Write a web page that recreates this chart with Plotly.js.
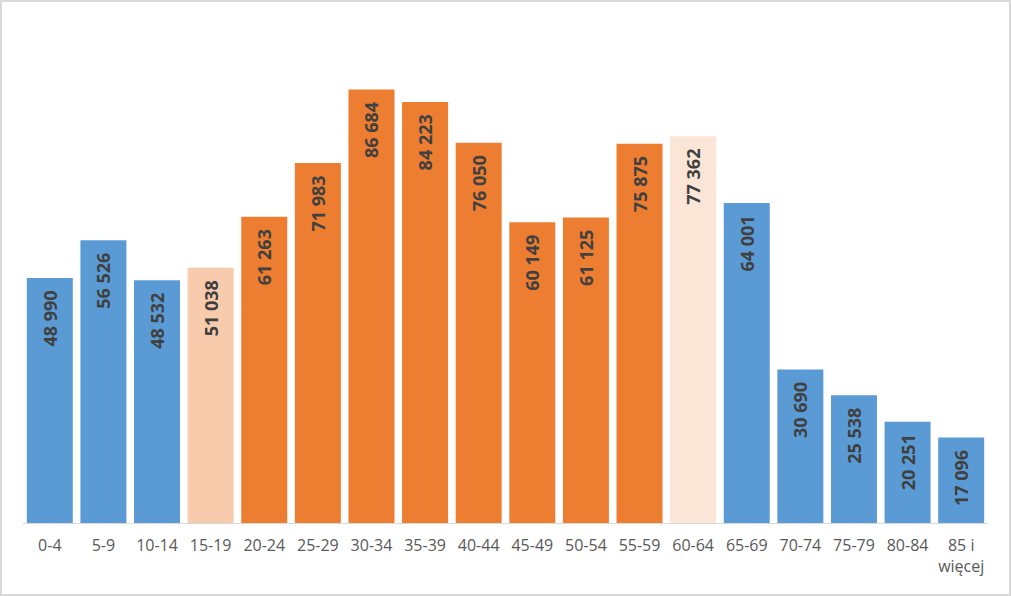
<!DOCTYPE html>
<html>
<head>
<meta charset="utf-8">
<script src="https://cdn.plot.ly/plotly-3.0.1.min.js"></script>
<style>
html,body{margin:0;padding:0;background:#fff;}
#wrap{position:relative;width:1011px;height:596px;}
#chart{width:1011px;height:596px;}
#frame{position:absolute;left:0;top:0;width:1011px;height:596px;box-sizing:border-box;border:2px solid #d9d9d9;pointer-events:none;}
</style>
</head>
<body>
<div id="wrap"><div id="chart"></div><div id="frame"></div></div>
<script>
const categories = ["0-4","5-9","10-14","15-19","20-24","25-29","30-34","35-39","40-44","45-49","50-54","55-59","60-64","65-69","70-74","75-79","80-84","85 i<br>więcej"];
const values = [48990,56526,48532,51038,61263,71983,86684,84223,76050,60149,61125,75875,77362,64001,30690,25538,20251,17096];
const barColors = ["#5B9BD5","#5B9BD5","#5B9BD5","#F8CBAD","#ED7D31","#ED7D31","#ED7D31","#ED7D31","#ED7D31","#ED7D31","#ED7D31","#ED7D31","#FBE5D6","#5B9BD5","#5B9BD5","#5B9BD5","#5B9BD5","#5B9BD5"];

function fmt(v){ return String(v).replace(/\B(?=(\d{3})+(?!\d))/g, "\u00a0") + "\u00a0\u00a0"; }

const trace = {
  type: "bar",
  x: categories,
  y: values,
  marker: {color: barColors},
  text: values.map(fmt),
  textposition: "inside",
  insidetextanchor: "end",
  textangle: -90,
  textfont: {family: "Open Sans, Liberation Sans, sans-serif", size: 18, color: "#404040", weight: "bold"},
  hoverinfo: "none",
  cliponaxis: false
};

const layout = {
  width: 1011, height: 596,
  margin: {l: 23, r: 23, t: 23, b: 73},
  paper_bgcolor: "#fff", plot_bgcolor: "#fff",
  bargap: 0.142,
  showlegend: false,
  xaxis: {
    type: "category",
    showline: true, linecolor: "#d9d9d9", linewidth: 1,
    ticks: "", ticklabelstandoff: 8,
    tickfont: {family: "Open Sans, Liberation Sans, sans-serif", size: 16, color: "#595959"},
    fixedrange: true
  },
  yaxis: {
    range: [0, 100000], visible: false, showgrid: false, zeroline: false, fixedrange: true
  }
};

Plotly.newPlot("chart", [trace], layout, {displayModeBar: false, staticPlot: true});
</script>
</body>
</html>
